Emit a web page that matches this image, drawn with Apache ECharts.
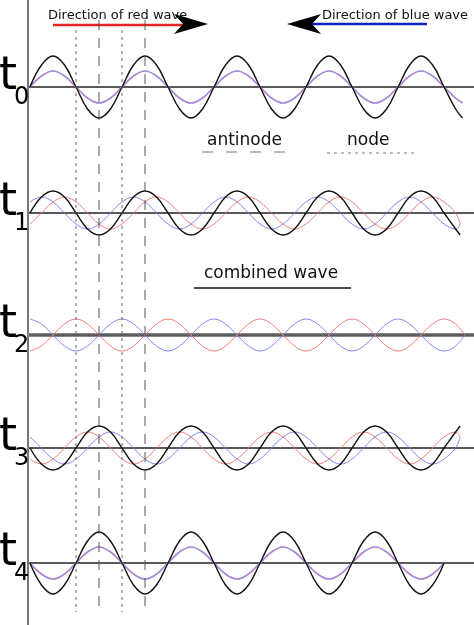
<!DOCTYPE html>
<html>
<head>
<meta charset="utf-8">
<script src="https://cdn.jsdelivr.net/npm/echarts@6/dist/echarts.min.js"></script>
<style>html,body{margin:0;padding:0;background:#fff}#chart{width:474px;height:625px}</style>
</head>
<body>
<div id="chart"></div>
<script>
// x unit = 1/8 wavelength, y unit = pixel offset (down positive)
var rowNames = ["0", "1", "2", "3", "4"];
var rowBase = [87, 213, 335, 448, 563];
var redCycle = [
    [0, 11, 16, 11, 0, -11, -16, -11],
    [-11, 0, 11, 16, 11, 0, -11, -16],
    [-16, -11, 0, 11, 16, 11, 0, -11],
    [-11, -16, -11, 0, 11, 16, 11, 0],
    [0, -11, -16, -11, 0, 11, 16, 11]
];
var blueCycle = [
    [0, 11, 16, 11, 0, -11, -16, -11],
    [11, 16, 11, 0, -11, -16, -11, 0],
    [16, 11, 0, -11, -16, -11, 0, 11],
    [11, 0, -11, -16, -11, 0, 11, 16],
    [0, -11, -16, -11, 0, 11, 16, 11]
];
var blackCycle = [
    [0, 22, 31, 22, 0, -22, -31, -22],
    [0, 16, 22, 16, 0, -16, -22, -16],
    null,
    [0, -16, -22, -16, 0, 16, 22, 16],
    [0, -22, -31, -22, 0, 22, 31, 22]
];
var waveEnd = [37.6, 37.4, 37.8, 37.4, 36];
var antinodeX = [6, 10];
var nodeX = [4, 8];

function tile(cycle, base, end) {
    var pts = [];
    for (var i = 0; i <= Math.ceil(end); i++) {
        pts.push([Math.min(i, end), base - cycle[i % 8]]);
    }
    return pts;
}

var series = [];
rowBase.forEach(function (base, r) {
    var overlap = (r === 0 || r === 4);
    series.push({type: "line", data: [[-0.2, base], [38.6, base]], symbol: "none",
        lineStyle: {color: r === 2 ? "#888" : "#222", width: r === 2 ? 4 : 1.3}});
    if (r === 2) series.push({type: "line", data: [[-0.2, base], [38.6, base]], symbol: "none",
        lineStyle: {color: "#333", width: 1}});
    series.push({type: "line", smooth: 0.4, symbol: "none", data: tile(blueCycle[r], base, waveEnd[r]),
        lineStyle: {color: overlap ? "#9080e0" : "#7777ee", width: overlap ? 1.6 : 1, opacity: overlap ? 0.9 : 0.9}});
    series.push({type: "line", smooth: 0.4, symbol: "none", data: tile(redCycle[r], base, waveEnd[r]),
        lineStyle: {color: overlap ? "#c080c0" : "#ee6f6f", width: overlap ? 1.2 : 1, opacity: overlap ? 0.6 : 0.9}});
    if (blackCycle[r]) series.push({type: "line", smooth: 0.4, symbol: "none",
        data: tile(blackCycle[r], base, waveEnd[r]), lineStyle: {color: "#111", width: 1.4}});
});
antinodeX.forEach(function (x) {
    series.push({type: "line", symbol: "none", data: [[x, 20], [x, 612]],
        lineStyle: {color: "#555", width: 1, type: [10, 8]}});
});
nodeX.forEach(function (x) {
    series.push({type: "line", symbol: "none", data: [[x, 30], [x, 612]],
        lineStyle: {color: "#666", width: 1, type: [3, 4]}});
});

var graphics = [
    {type: "line", shape: {x1: 28, y1: 0, x2: 28, y2: 625}, style: {stroke: "#777", lineWidth: 2}},
    {type: "text", x: 48, y: 9, style: {text: "Direction of red wave", font: "13px DejaVu Sans", fill: "#111"}},
    {type: "line", shape: {x1: 53, y1: 25, x2: 185, y2: 25}, style: {stroke: "#e82020", lineWidth: 2.5}},
    {type: "polygon", shape: {points: [[208, 24], [174, 14], [183, 24], [174, 34]]}, style: {fill: "#000"}},
    {type: "text", x: 322, y: 9, style: {text: "Direction of blue wave", font: "13px DejaVu Sans", fill: "#111"}},
    {type: "line", shape: {x1: 305, y1: 24, x2: 427, y2: 24}, style: {stroke: "#1020c0", lineWidth: 2.5}},
    {type: "polygon", shape: {points: [[287, 24], [321, 14], [312, 24], [321, 34]]}, style: {fill: "#000"}},
    {type: "text", x: 207, y: 132, style: {text: "antinode", font: "17px DejaVu Sans", fill: "#111"}},
    {type: "line", shape: {x1: 202, y1: 152, x2: 286, y2: 152}, style: {stroke: "#777", lineWidth: 1, lineDash: [11, 13]}},
    {type: "text", x: 347, y: 132, style: {text: "node", font: "17px DejaVu Sans", fill: "#111"}},
    {type: "line", shape: {x1: 327, y1: 153, x2: 417, y2: 153}, style: {stroke: "#777", lineWidth: 1, lineDash: [3, 4]}},
    {type: "text", x: 204, y: 265, style: {text: "combined wave", font: "17px DejaVu Sans", fill: "#111"}},
    {type: "line", shape: {x1: 194, y1: 288, x2: 351, y2: 288}, style: {stroke: "#111", lineWidth: 1.3}}
];
rowBase.forEach(function (base, r) {
    graphics.push({type: "text", x: -1, y: base - 33, style: {text: "t", font: "46px DejaVu Sans", fill: "#000"}});
    graphics.push({type: "text", x: 14, y: base - 1, style: {text: rowNames[r], font: "24px DejaVu Sans", fill: "#000"}});
});

var chart = echarts.init(document.getElementById("chart"));
chart.setOption({
    animation: false,
    grid: {left: 30, right: 0, top: 0, bottom: 0},
    xAxis: {type: "value", min: 0, max: 38.6, show: false},
    yAxis: {type: "value", min: 0, max: 625, inverse: true, show: false},
    series: series,
    graphic: graphics
});
</script>
</body>
</html>
